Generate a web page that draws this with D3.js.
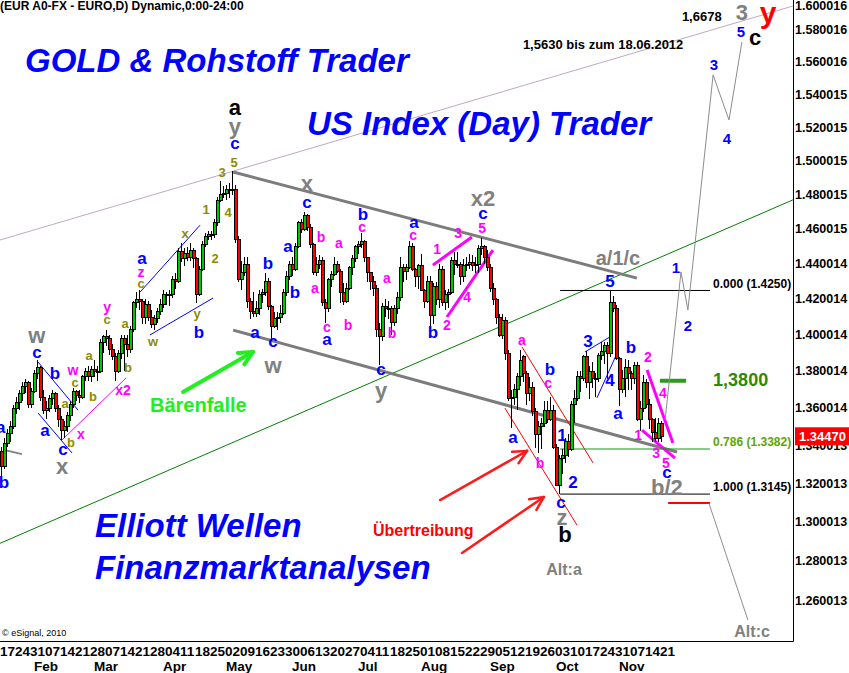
<!DOCTYPE html>
<html><head><meta charset="utf-8">
<script src="https://cdn.jsdelivr.net/npm/d3@7"></script>
<style>
html,body{margin:0;padding:0;background:#fff;}
svg{display:block;font-family:"Liberation Sans",Arial,sans-serif;}
</style></head><body>
<svg id="c" width="849" height="673"></svg>
<script>
// ---------- DATA ----------
const weekLabels = ["17","24","31","07","14","21","28","07","14","21","28","04","11","18","25","02","09","16","23","30","06","13","20","27","04","11","18","25","01","08","15","22","29","05","12","19","26","03","10","17","24","31","07","14","21"];
const monthLabels = ["Feb","Mar","Apr","May","Jun","Jul","Aug","Sep","Oct","Nov"];
const monthStartDay = [11,31,54,75,97,119,140,163,185,206];
const priceTicks = [1.600016,1.580016,1.560016,1.540015,1.520015,1.500015,1.480015,1.460015,1.440014,1.420014,1.400014,1.380014,1.360014,1.340013,1.320013,1.300013,1.280013,1.260013];

const open = [1.3370,1.3290,1.3410,1.3465,1.3500, 1.3600,1.3630,1.3680,1.3720,1.3740, 1.3620,1.3690,1.3790,1.3820,1.3660, 1.3590,1.3600,1.3650,1.3680,1.3600,
 1.3540,1.3480,1.3500,1.3560,1.3620, 1.3690,1.3670,1.3660,1.3770,1.3800, 1.3770,1.3810,1.3800,1.3800,1.3960, 1.3990,1.3980,1.3920,1.3880,1.3800,
 1.3900,1.3980,1.3950,1.3920,1.4030, 1.4180,1.4200,1.4190,1.4100,1.4170, 1.4100,1.4060,1.4090,1.4130,1.4170, 1.4230,1.4220,1.4230,1.4310,1.4300,
 1.4470,1.4430,1.4460,1.4440,1.4480, 1.4430,1.4230,1.4370,1.4510,1.4560, 1.4570,1.4570,1.4640,1.4770,1.4800, 1.4810,1.4830,1.4830,1.4830,1.4540,
 1.4310,1.4350,1.4400,1.4190,1.4130, 1.4120,1.4150,1.4230,1.4240,1.4300, 1.4160,1.4050,1.4090,1.4100,1.4120, 1.4240,1.4330,1.4400,1.4370,1.4500,
 1.4640,1.4600,1.4680,1.4610,1.4510, 1.4350,1.4400,1.4420,1.4180,1.4150, 1.4310,1.4340,1.4400,1.4360,1.4240, 1.4190,1.4260,1.4380,1.4430,1.4500,
 1.4510,1.4530,1.4440,1.4350,1.4300, 1.4260,1.4030,1.3990,1.4160,1.4150, 1.4150,1.4070,1.4150,1.4210,1.4380, 1.4360,1.4380,1.4500,1.4370,1.4330,
 1.4390,1.4250,1.4190,1.4300,1.4110, 1.4270,1.4200,1.4370,1.4180,1.4230, 1.4240,1.4420,1.4400,1.4400,1.4330, 1.4390,1.4400,1.4410,1.4390,1.4400,
 1.4490,1.4500,1.4440,1.4380,1.4260, 1.4200,1.4100,1.4000,1.4080,1.3900, 1.3650,1.3660,1.3700,1.3770,1.3880, 1.3790,1.3680,1.3710,1.3580,1.3460,
 1.3500,1.3520,1.3590,1.3540,1.3590, 1.3390,1.3190,1.3330,1.3350,1.3420, 1.3380,1.3620,1.3650,1.3770,1.3760, 1.3880,1.3740,1.3800,1.3760,1.3760,
 1.3890,1.3910,1.3940,1.3900,1.4180, 1.4150,1.3870,1.3700,1.3760,1.3820, 1.3790,1.3760,1.3830,1.3540,1.3600, 1.3740,1.3620,1.3540,1.3470,1.3440,
 1.3520];
const high = [1.3395,1.3440,1.3490,1.3530,1.3620, 1.3660,1.3700,1.3740,1.3760,1.3750, 1.3710,1.3810,1.3860,1.3830,1.3700, 1.3640,1.3670,1.3700,1.3690,1.3620,
 1.3560,1.3530,1.3580,1.3640,1.3710, 1.3700,1.3700,1.3780,1.3820,1.3830, 1.3830,1.3860,1.3830,1.3980,1.4000, 1.4030,1.4000,1.3950,1.3900,1.3920,
 1.4000,1.4000,1.4000,1.4050,1.4190, 1.4240,1.4250,1.4200,1.4200,1.4190, 1.4140,1.4110,1.4150,1.4200,1.4250, 1.4240,1.4250,1.4330,1.4350,1.4490,
 1.4520,1.4490,1.4500,1.4520,1.4490, 1.4440,1.4390,1.4530,1.4580,1.4590, 1.4590,1.4660,1.4790,1.4880,1.4850, 1.4860,1.4870,1.4940,1.4860,1.4560,
 1.4420,1.4440,1.4440,1.4210,1.4240, 1.4190,1.4250,1.4260,1.4350,1.4320, 1.4170,1.4130,1.4130,1.4170,1.4260, 1.4360,1.4420,1.4440,1.4520,1.4650,
 1.4660,1.4700,1.4690,1.4630,1.4520, 1.4440,1.4450,1.4440,1.4200,1.4320, 1.4360,1.4440,1.4420,1.4370,1.4290, 1.4290,1.4390,1.4450,1.4510,1.4530,
 1.4580,1.4540,1.4440,1.4350,1.4330, 1.4280,1.4070,1.4180,1.4200,1.4190, 1.4160,1.4170,1.4240,1.4440,1.4400, 1.4400,1.4530,1.4520,1.4380,1.4400,
 1.4460,1.4260,1.4330,1.4330,1.4290, 1.4300,1.4400,1.4390,1.4250,1.4260, 1.4440,1.4470,1.4470,1.4410,1.4430, 1.4440,1.4460,1.4450,1.4440,1.4510,
 1.4550,1.4510,1.4480,1.4400,1.4290, 1.4210,1.4120,1.4120,1.4100,1.3920, 1.3700,1.3730,1.3790,1.3920,1.3890, 1.3800,1.3770,1.3740,1.3600,1.3530,
 1.3550,1.3640,1.3640,1.3660,1.3620, 1.3410,1.3350,1.3380,1.3440,1.3460, 1.3640,1.3700,1.3800,1.3800,1.3890, 1.3910,1.3830,1.3850,1.3790,1.3900,
 1.3960,1.3960,1.3960,1.4247,1.4220, 1.4170,1.3880,1.3810,1.3870,1.3860, 1.3800,1.3850,1.3850,1.3640,1.3780, 1.3760,1.3650,1.3550,1.3550,1.3550,
 1.3530];
const low = [1.3240,1.3275,1.3390,1.3420,1.3490, 1.3570,1.3590,1.3640,1.3680,1.3600, 1.3600,1.3680,1.3760,1.3640,1.3570, 1.3540,1.3580,1.3620,1.3580,1.3500,
 1.3430,1.3440,1.3470,1.3530,1.3600, 1.3640,1.3630,1.3650,1.3750,1.3750, 1.3740,1.3770,1.3750,1.3790,1.3900, 1.3940,1.3890,1.3860,1.3750,1.3790,
 1.3870,1.3800,1.3880,1.3900,1.4020, 1.4150,1.4140,1.4060,1.4060,1.4080, 1.4040,1.4030,1.4070,1.4110,1.4150, 1.4170,1.4160,1.4210,1.4260,1.4290,
 1.4410,1.4390,1.4420,1.4420,1.4380, 1.4180,1.4220,1.4360,1.4500,1.4540, 1.4540,1.4550,1.4620,1.4760,1.4780, 1.4770,1.4780,1.4800,1.4520,1.4300,
 1.4250,1.4330,1.4150,1.4090,1.4100, 1.4100,1.4110,1.4180,1.4220,1.4140, 1.3970,1.4040,1.4030,1.4070,1.4110, 1.4220,1.4310,1.4330,1.4360,1.4490,
 1.4580,1.4590,1.4590,1.4490,1.4340, 1.4330,1.4370,1.4160,1.4070,1.4130, 1.4270,1.4330,1.4350,1.4180,1.4170, 1.4180,1.4250,1.4340,1.4410,1.4460,
 1.4490,1.4410,1.4300,1.4250,1.4220, 1.3990,1.3837,1.3970,1.4100,1.4090, 1.4000,1.4050,1.4120,1.4190,1.4300, 1.4310,1.4370,1.4360,1.4270,1.4260,
 1.4250,1.4150,1.4180,1.4050,1.4060, 1.4170,1.4150,1.4160,1.4140,1.4150, 1.4230,1.4340,1.4380,1.4280,1.4300, 1.4360,1.4370,1.4360,1.4350,1.4350,
 1.4450,1.4400,1.4360,1.4240,1.4170, 1.4060,1.3990,1.3980,1.3860,1.3640, 1.3495,1.3620,1.3590,1.3720,1.3740, 1.3620,1.3640,1.3560,1.3385,1.3360,
 1.3380,1.3500,1.3520,1.3530,1.3380, 1.3190,1.3145,1.3250,1.3310,1.3340, 1.3370,1.3520,1.3640,1.3690,1.3750, 1.3710,1.3650,1.3710,1.3660,1.3740,
 1.3860,1.3840,1.3760,1.3880,1.4130, 1.3860,1.3610,1.3680,1.3660,1.3700, 1.3700,1.3730,1.3530,1.3480,1.3580, 1.3600,1.3490,1.3420,1.3420,1.3420,
 1.3420];
const close = [1.3290,1.3410,1.3465,1.3500,1.3600, 1.3630,1.3680,1.3720,1.3740,1.3620, 1.3690,1.3790,1.3820,1.3660,1.3590, 1.3600,1.3650,1.3680,1.3600,1.3540,
 1.3480,1.3500,1.3560,1.3620,1.3690, 1.3670,1.3660,1.3770,1.3800,1.3770, 1.3810,1.3800,1.3800,1.3960,1.3990, 1.3980,1.3920,1.3880,1.3800,1.3900,
 1.3980,1.3950,1.3920,1.4030,1.4180, 1.4200,1.4190,1.4100,1.4170,1.4100, 1.4060,1.4090,1.4130,1.4170,1.4230, 1.4220,1.4230,1.4310,1.4300,1.4470,
 1.4430,1.4460,1.4440,1.4480,1.4430, 1.4230,1.4370,1.4510,1.4560,1.4570, 1.4570,1.4640,1.4770,1.4800,1.4810, 1.4830,1.4830,1.4830,1.4540,1.4310,
 1.4350,1.4400,1.4190,1.4130,1.4120, 1.4150,1.4230,1.4240,1.4300,1.4160, 1.4050,1.4090,1.4100,1.4120,1.4240, 1.4330,1.4400,1.4370,1.4500,1.4640,
 1.4600,1.4680,1.4610,1.4510,1.4350, 1.4400,1.4420,1.4180,1.4150,1.4310, 1.4340,1.4400,1.4360,1.4240,1.4190, 1.4260,1.4380,1.4430,1.4500,1.4510,
 1.4530,1.4440,1.4350,1.4300,1.4260, 1.4030,1.3990,1.4160,1.4150,1.4150, 1.4070,1.4150,1.4210,1.4380,1.4360, 1.4380,1.4500,1.4370,1.4330,1.4390,
 1.4250,1.4190,1.4300,1.4110,1.4270, 1.4200,1.4370,1.4180,1.4230,1.4240, 1.4420,1.4400,1.4400,1.4330,1.4390, 1.4400,1.4410,1.4390,1.4400,1.4490,
 1.4500,1.4440,1.4380,1.4260,1.4200, 1.4100,1.4000,1.4080,1.3900,1.3650, 1.3660,1.3700,1.3770,1.3860,1.3790, 1.3680,1.3710,1.3580,1.3460,1.3500,
 1.3520,1.3590,1.3540,1.3590,1.3390, 1.3190,1.3330,1.3350,1.3420,1.3380, 1.3620,1.3650,1.3770,1.3760,1.3880, 1.3740,1.3800,1.3760,1.3760,1.3890,
 1.3910,1.3940,1.3900,1.4180,1.4150, 1.3870,1.3700,1.3760,1.3820,1.3790, 1.3760,1.3830,1.3540,1.3600,1.3740, 1.3620,1.3540,1.3470,1.3440,1.3520,
 1.3447];
const lastPrice = 1.34470;

// Elliott wave labels: [day index, price, text, style]
const waveLabels = [
 [11.8,1.4000,"w","G"],[11.8,1.3906,"c","B"],[17.8,1.3791,"b","B"],[23.8,1.3808,"w","M"],[24.5,1.3742,"c","O"],
 [21.2,1.3628,"a","O"],[29.2,1.3890,"a","O"],[42.2,1.3824,"b","O"],[40.5,1.3698,"x2","M"],[30.5,1.3666,"b","O"],
 [14.5,1.3483,"a","B"],[26.5,1.3461,"x","M"],[23.2,1.3419,"b","O"],[20.5,1.3382,"c","B"],[20.2,1.3287,"x","G"],
 [-0.3,1.3499,"a","B"],[0.8,1.3203,"b","B"],[65.8,1.4017,"b","B"],[50.5,1.3962,"w","O"],[46.8,1.4434,"a","B"],
 [46.5,1.4355,"z","M"],[46.5,1.4292,"c","O"],[35.2,1.4157,"y","M"],[35.2,1.4085,"c","O"],[41.2,1.4062,"a","O"],
 [61.2,1.4578,"x","O"],[65.2,1.4123,"y","O"],[68.2,1.4712,"1","O"],[71.2,1.4434,"2","O"],[73.5,1.4935,"3","O"],
 [75.5,1.4700,"4","O"],[77.5,1.4994,"5","O"],[77.8,1.5103,"c","B"],[77.8,1.5208,"y","G"],[77.8,1.5324,"a","K"],
 [101.8,1.4870,"x","G"],[101.8,1.4758,"c","B"],[88.8,1.4406,"b","B"],[95.5,1.4498,"a","B"],[97.8,1.4236,"b","B"],
 [84.5,1.4017,"a","B"],[90.5,1.3962,"c","B"],[90.5,1.3835,"w","G"],[106.5,1.4555,"b","M"],[112.5,1.4521,"a","M"],
 [104.5,1.4264,"a","M"],[108.5,1.4045,"c","M"],[108.5,1.3973,"a","B"],[115.5,1.4056,"b","M"],[120.5,1.4683,"b","B"],
 [120.2,1.4613,"c","M"],[128.5,1.4320,"a","M"],[130.2,1.4012,"b","M"],[126.5,1.3808,"c","B"],[126.5,1.3698,"y","G"],
 [137.5,1.4642,"a","B"],[137.2,1.4567,"c","M"],[145.2,1.4486,"1","M"],[143.8,1.4012,"b","B"],[148.5,1.4056,"2","M"],
 [160.5,1.4782,"x2","G"],[160.5,1.4694,"c","B"],[160.2,1.4607,"5","M"],[152.2,1.4578,"3","M"],[155.2,1.4213,"4","M"],
 [205.5,1.4434,"a/1/c","G2"],[202.8,1.4298,"5","B"],[173.5,1.3973,"a","M"],[182.8,1.3808,"b","B"],[195.5,1.3962,"3","B"],
 [209.8,1.3929,"b","B"],[215.5,1.3879,"2","M"],[182.2,1.3737,"c","M"],[202.8,1.3753,"4","B"],[220.5,1.3682,"4","M"],
 [205.5,1.3569,"a","B"],[170.5,1.3443,"a","B"],[186.8,1.3454,"1","B"],[212.2,1.3454,"1","M"],[218.2,1.3363,"3","M"],
 [221.5,1.3310,"5","M"],[179.5,1.3310,"b","M"],[221.8,1.3257,"c","B"],[190.5,1.3208,"2","B"],[221.8,1.3180,"b/2","G"],
 [186.5,1.3099,"c","B"],[186.8,1.3026,"z","G"],[187.8,1.2935,"b","K"],
 [224.8,1.4383,"1","B2"],[228.8,1.4056,"2","B2"],[237.5,1.5587,"3","B2"],[241.8,1.5135,"4","B2"],[246.5,1.5788,"5","B2"],
 [251.2,1.5756,"c","K"],[246.8,1.5907,"3","G"],[255.5,1.5913,"y","R"],
 [187.5,1.2756,"Alt:a","GA"],[250.2,1.2446,"Alt:c","GA"]
];

// Straight lines: [day1, price1, day2, price2, style]
const trendLines = [
 [-0.5,1.4538,263.8,1.5951,"mauve"],
 [-0.5,1.2891,263.8,1.4771,"green"],
 [77.2,1.4935,211.8,1.4320,"channel"],
 [77.2,1.4028,225.2,1.3366,"channel"],
 [1.2,1.3376,6.8,1.3355,"greyShort"],
 [12.2,1.3851,25.5,1.3590,"blue"],[12.2,1.3574,23.5,1.3361,"blue"],
 [20.2,1.3430,41.5,1.3764,"magenta"],
 [46.2,1.4241,66.2,1.4624,"blue"],[49.5,1.4001,70.5,1.4207,"blue"],
 [143.8,1.4394,156.8,1.4555,"magentaThick"],[148.5,1.4101,163.8,1.4480,"magentaThick"],
 [173.5,1.3934,197.2,1.3308,"red"],[167.8,1.3601,191.8,1.2985,"red"],
 [194.5,1.3907,203.8,1.4000,"blue"],[198.5,1.3656,205.2,1.3901,"blue"],
 [215.2,1.3808,223.8,1.3414,"magentaThick"],[213.5,1.3483,224.5,1.3334,"magentaThick"],
 [186.2,1.4250,236.2,1.4250,"fibBlack"],[186.2,1.3382,236.2,1.3382,"fibGreen"],[186.2,1.3145,236.2,1.3145,"fibBlack"],
 [222.2,1.3098,236.2,1.3098,"redThick"],
 [219.5,1.3749,228.2,1.3749,"target"]
];
const projection = [[221.2,1.3537],[226.5,1.4355],[228.8,1.4140],[237.2,1.5521],[242.5,1.5246],[246.8,1.5725]];
const altProjection = [[235.8,1.3098],[248.8,1.2505]];
// arrows: [tailDay, tailPrice, headDay, headPrice, style]
const arrows = [
 [146.2,1.3114,175.2,1.3372,"red"],
 [153.5,1.2842,180.8,1.3130,"red"],
 [60.5,1.3688,83.8,1.3907,"green"]
];
// free text anchored to data: [day, price, text, style]
const notes = [
 [237.2,1.4286,"0.000 (1.4250)","fibK"],
 [237.2,1.3419,"0.786 (1.3382)","fibG"],
 [237.2,1.3182,"1.000 (1.3145)","fibK"],
 [237.2,1.3753,"1,3800","target"],
 [226.8,1.5882,"1,6678","note"],
 [173.8,1.5712,"1,5630 bis zum 18.06.2012","note"]
];

// ---------- DRAW ----------
const W = 849, H = 673, PR = 793, PB = 641;
const svg = d3.select("#c");
const x = d3.scaleLinear().domain([0, 264]).range([1.5, 793.5]);
const y = d3.scaleLog().domain([1.58, 1.26]).range([30, 600.9]);

svg.append("rect").attr("width",W).attr("height",H).attr("fill","#fff");
svg.append("defs").append("clipPath").attr("id","plot")
  .append("rect").attr("x",0).attr("y",0).attr("width",PR).attr("height",PB);
const g = svg.append("g").attr("clip-path","url(#plot)");

const lineStyle = {
 mauve:{stroke:"#bfaabf",w:1}, green:{stroke:"#008000",w:1}, channel:{stroke:"#7c7c7c",w:3},
 greyShort:{stroke:"#808080",w:2}, blue:{stroke:"#0000ff",w:1}, magenta:{stroke:"#ff00ff",w:1},
 magentaThick:{stroke:"#ff00ff",w:3}, red:{stroke:"#ff0000",w:1}, fibBlack:{stroke:"#000",w:1},
 fibGreen:{stroke:"#119911",w:1}, redThick:{stroke:"#ff0000",w:2}, target:{stroke:"#2e9a1e",w:4}
};

// background lines
g.selectAll("line.tl").data(trendLines).join("line").attr("class","tl")
  .attr("x1",d=>x(d[0])).attr("y1",d=>y(d[1])).attr("x2",d=>x(d[2])).attr("y2",d=>y(d[3]))
  .attr("stroke",d=>lineStyle[d[4]].stroke).attr("stroke-width",d=>lineStyle[d[4]].w);

// candles
const idx = d3.range(close.length);
const cg = g.append("g").attr("shape-rendering","crispEdges");
cg.selectAll("line.wick").data(idx).join("line").attr("class","wick")
  .attr("x1",i=>x(i)).attr("x2",i=>x(i)).attr("y1",i=>y(high[i])).attr("y2",i=>y(low[i]))
  .attr("stroke","#000").attr("stroke-width",1);
cg.selectAll("rect.body").data(idx).join("rect").attr("class","body")
  .attr("x",i=>x(i)-1).attr("width",3)
  .attr("y",i=>y(Math.max(open[i],close[i])))
  .attr("height",i=>Math.max(1,y(Math.min(open[i],close[i]))-y(Math.max(open[i],close[i]))))
  .attr("fill",i=>close[i]>=open[i]?"#00c800":"#ff0000")
  .attr("stroke","#000").attr("stroke-width",1);

// projection paths
const pl = d3.line().x(d=>x(d[0])).y(d=>y(d[1]));
g.append("path").attr("d",pl(projection)).attr("fill","none").attr("stroke","#8c8c8c").attr("stroke-width",1);
g.append("path").attr("d",pl(altProjection)).attr("fill","none").attr("stroke","#8c8c8c").attr("stroke-width",1);

// arrows
const arrowColor = {red:"#ff1a1a", green:"#22ee22"};
const arrowWidth = {red:2.5, green:4};
arrows.forEach(a=>{
  const x1=x(a[0]), y1=y(a[1]), x2=x(a[2]), y2=y(a[3]);
  const ang=Math.atan2(y2-y1,x2-x1), L=15, sp=0.45;
  const c=arrowColor[a[4]], w=arrowWidth[a[4]];
  g.append("line").attr("x1",x1).attr("y1",y1).attr("x2",x2).attr("y2",y2)
    .attr("stroke",c).attr("stroke-width",w).attr("stroke-linecap","round");
  [ -sp, sp ].forEach(s=>{
    g.append("line").attr("x1",x2).attr("y1",y2)
      .attr("x2",x2-L*Math.cos(ang+s)).attr("y2",y2-L*Math.sin(ang+s))
      .attr("stroke",c).attr("stroke-width",w).attr("stroke-linecap","round");
  });
});

// wave labels
const lblStyle = {
 B:{fill:"#0000ff",size:17}, B2:{fill:"#0000ff",size:15}, M:{fill:"#ff00ff",size:14},
 O:{fill:"#8c8c00",size:13}, G:{fill:"#808080",size:22}, G2:{fill:"#808080",size:20},
 GA:{fill:"#808080",size:16}, K:{fill:"#000000",size:22}, R:{fill:"#ff0000",size:30}
};
g.selectAll("text.wl").data(waveLabels).join("text").attr("class","wl")
  .attr("x",d=>x(d[0])).attr("y",d=>y(d[1]))
  .attr("text-anchor","middle").attr("dominant-baseline","central")
  .attr("font-weight","bold").attr("font-size",d=>lblStyle[d[3]].size)
  .attr("fill",d=>lblStyle[d[3]].fill).text(d=>d[2]);

const noteStyle = {
 fibK:{fill:"#000",size:12}, fibG:{fill:"#5ea600",size:12},
 target:{fill:"#2e8a00",size:18}, note:{fill:"#000",size:13}
};
g.selectAll("text.note").data(notes).join("text").attr("class","note")
  .attr("x",d=>x(d[0])).attr("y",d=>y(d[1]))
  .attr("dominant-baseline","central").attr("font-weight","bold")
  .attr("font-size",d=>noteStyle[d[3]].size).attr("fill",d=>noteStyle[d[3]].fill).text(d=>d[2]);

// big titles
const titles = [
 ["GOLD & Rohstoff Trader",25,60],["US Index (Day) Trader",307,123],
 ["Elliott Wellen",95,525],["Finanzmarktanalysen",95,567]
];
g.selectAll("text.title").data(titles).join("text").attr("class","title")
  .attr("x",d=>d[1]).attr("y",d=>d[2]).attr("dominant-baseline","central")
  .attr("font-size",33).attr("font-weight","bold").attr("font-style","italic")
  .attr("fill","#0000ff").text(d=>d[0]);

g.append("text").attr("x",150).attr("y",405).attr("dominant-baseline","central")
  .attr("font-size",20).attr("font-weight","bold").attr("fill","#22ee22").text("Bärenfalle");
g.append("text").attr("x",373).attr("y",530).attr("dominant-baseline","central")
  .attr("font-size",16).attr("font-weight","bold").attr("fill","#ff0000").text("Übertreibung");
g.append("text").attr("x",2).attr("y",633).attr("dominant-baseline","central")
  .attr("font-size",9).attr("fill","#000").text("© eSignal, 2010");
svg.append("text").attr("x",0).attr("y",6).attr("dominant-baseline","central")
  .attr("font-size",12).attr("font-weight","bold").attr("fill","#000")
  .text("(EUR A0-FX - EURO,D) Dynamic,0:00-24:00");

// frame
svg.append("line").attr("x1",PR+0.5).attr("x2",PR+0.5).attr("y1",0).attr("y2",PB+0.5).attr("stroke","#000");
svg.append("line").attr("x1",0).attr("x2",PR+0.5).attr("y1",PB+0.5).attr("y2",PB+0.5).attr("stroke","#000");

// right axis
const yAxis = d3.axisRight(y).tickValues(priceTicks).tickSize(0).tickPadding(0).tickFormat(d=>d.toFixed(6));
const ya = svg.append("g").attr("transform",`translate(${PR+2},0)`).call(yAxis);
ya.select(".domain").remove();
ya.selectAll("text").attr("font-family","Liberation Sans, Arial, sans-serif")
  .attr("font-size",12.5).attr("font-weight","bold").attr("fill","#000").attr("dy",null)
  .attr("dominant-baseline","central");
ya.selectAll(".tick").attr("transform",d=>`translate(0,${Math.max(6,y(d))})`);

// last price box
const ly = y(lastPrice);
svg.append("rect").attr("x",PR+2).attr("y",ly-9.5).attr("width",W-PR-2).attr("height",18).attr("fill","#ff0000");
svg.append("text").attr("x",PR+6).attr("y",ly).attr("dominant-baseline","central")
  .attr("font-size",13).attr("font-weight","bold").attr("fill","#fff").text(lastPrice.toFixed(5));

// bottom axis: week labels and months
svg.selectAll("text.wk").data(weekLabels).join("text").attr("class","wk")
  .attr("x",(d,i)=>x(i*5)-1.5).attr("y",651).attr("dominant-baseline","central")
  .attr("font-size",13.5).attr("font-weight","bold").attr("fill","#000").text(d=>d);
svg.selectAll("text.mo").data(monthLabels).join("text").attr("class","mo")
  .attr("x",(d,i)=>x(monthStartDay[i])-0.5).attr("y",666).attr("dominant-baseline","central")
  .attr("font-size",13.5).attr("font-weight","bold").attr("fill","#000").text(d=>d);
</script>
</body></html>
